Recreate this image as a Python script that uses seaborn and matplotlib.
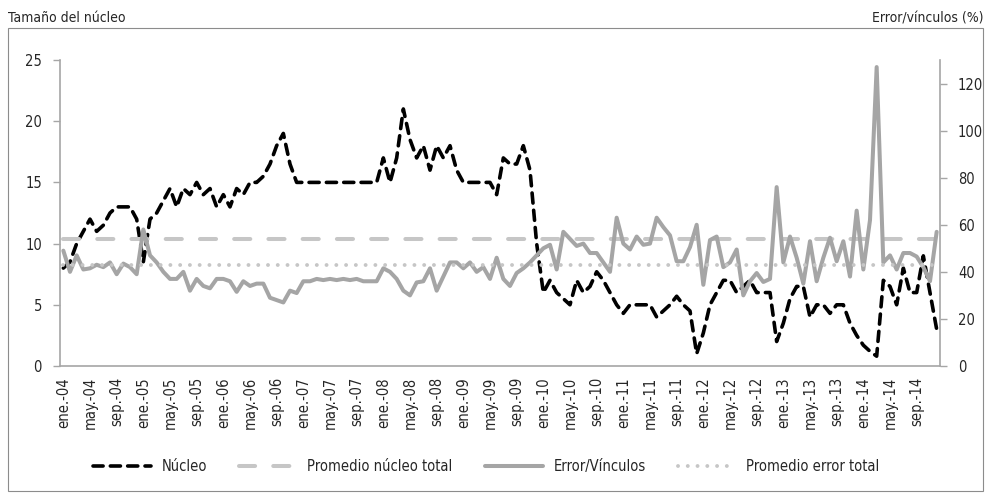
import numpy as np
import pandas as pd
import matplotlib
matplotlib.use('Agg')
import matplotlib.pyplot as plt
import matplotlib.patches as patches
import seaborn as sns

sns.set_style('white')
plt.rcParams['font.family'] = ['DejaVu Sans']
plt.rcParams['font.stretch'] = 'condensed'

# meses ene.-04 .. dic.-14
meses = ['ene.', 'feb.', 'mar.', 'abr.', 'may.', 'jun.',
         'jul.', 'ago.', 'sep.', 'oct.', 'nov.', 'dic.']
anios = list(range(4, 15))
etiquetas = ['{}-{:02d}'.format(m, a) for a in anios for m in meses]

# tamaño del núcleo (eje izquierdo)
nucleo = [8, 8.5, 10, 11, 12, 11, 11.5, 12.5, 13, 13, 13, 12,
          8.5, 12, 12.5, 13.5, 14.5, 13, 14.5, 14, 15, 14, 14.5, 13,
          14, 13, 14.5, 14, 15, 15, 15.5, 16.5, 18, 19, 16.5, 15,
          15, 15, 15, 15, 15, 15, 15, 15, 15, 15, 15, 15,
          17, 15, 17, 21, 18.5, 17, 18, 16, 18, 17, 18, 16,
          15, 15, 15, 15, 15, 14, 17, 16.5, 16.5, 18, 16, 10,
          6, 7, 6, 5.5, 5, 7, 6, 6.5, 7.7, 7, 6, 5,
          4.3, 5, 5, 5, 5, 4, 4.5, 5, 5.7, 5, 4.5, 1,
          2.7, 5, 6, 7, 7, 6, 6.5, 7, 6, 6, 6, 2,
          3.5, 5.5, 6.5, 6.5, 4, 5, 5, 4.3, 5, 5, 3.5, 2.5,
          1.7, 1.2, 0.8, 7, 6.5, 5, 8, 6, 6, 9, 6, 3]

# error / vínculos en % (eje derecho)
error = [49, 40, 47, 41, 41.5, 43, 42, 44, 39, 43.5, 42, 39,
         58, 47, 44, 40, 37, 37, 40, 32, 37, 34, 33, 37,
         37, 36, 31.5, 36, 34, 35, 35, 29, 28, 27, 32, 31,
         36, 36, 37, 36.5, 37, 36.5, 37, 36.5, 37, 36, 36, 36,
         41.5, 40, 37, 32, 30, 35.5, 36, 41.5, 32, 38, 44, 44,
         41.5, 44, 40, 42, 37, 46, 37, 34, 39.5, 41.5, 44, 47,
         50, 51.5, 41, 57, 54, 51, 52, 48, 48, 44, 40, 63,
         52, 49.5, 55, 51.5, 52, 63, 59, 55.5, 44.5, 44.5, 50.5, 60,
         34.5, 53.5, 55, 42, 44, 49.5, 30, 36, 39.5, 35.7, 37, 76,
         44, 55, 46, 35, 53, 36, 46, 54.5, 44.5, 53, 38, 66,
         41, 62, 127, 44, 47, 41, 48, 48, 46.5, 42, 36, 57]

prom_nucleo = 10.4
prom_error = 43.0

n = len(etiquetas)
df = pd.DataFrame({'pos': np.arange(n), 'mes': etiquetas,
                   'Núcleo': nucleo, 'Error/Vínculos': error})
df['Promedio núcleo total'] = prom_nucleo
df['Promedio error total'] = prom_error

fig = plt.figure(figsize=(9.9, 4.93), dpi=100)
ax = fig.add_axes([60/990, 1-366/493, 880/990, 306/493])
ax2 = ax.twinx()

sns.lineplot(data=df, x='pos', y='Núcleo', ax=ax, color='black', lw=2.6,
             label='Núcleo')
ax.lines[-1].set_dashes((2.8, 2.0))
ax.lines[-1].set_dash_capstyle('round')
sns.lineplot(data=df, x='pos', y='Promedio núcleo total', ax=ax, color='#c6c6c6',
             lw=2.9, label='Promedio núcleo total')
ax.lines[-1].set_dashes((4, 4.5))
ax.lines[-1].set_dash_capstyle('round')

sns.lineplot(data=df, x='pos', y='Error/Vínculos', ax=ax2, color='#a5a5a5', lw=2.9,
             label='Error/Vínculos')
sns.lineplot(data=df, x='pos', y='Promedio error total', ax=ax2, color='#c6c6c6',
             lw=2.8, label='Promedio error total')
ax2.lines[-1].set_dashes((0.01, 2.5))
ax2.lines[-1].set_dash_capstyle('round')

ax.set_xlim(-0.5, n - 0.5)
ax.set_ylim(0, 25)
ax2.set_ylim(0, 130)
ax.set_yticks([0, 5, 10, 15, 20, 25])
ax2.set_yticks([0, 20, 40, 60, 80, 100, 120])

# marcas entre categorías, etiquetas cada 4 meses
ax.set_xticks(np.arange(-0.5, n, 4))
ax.set_xticklabels([])
ax.set_xticks(np.arange(0, n, 4), minor=True)
ax.set_xticklabels(etiquetas[::4], minor=True, rotation=90)
ax.tick_params(axis='x', which='major', length=5, width=1, color='#a6a6a6', direction='out')
ax.tick_params(axis='x', which='minor', length=0, pad=8, labelsize=10.5)
ax.tick_params(axis='y', length=5, width=1, color='#a6a6a6', labelsize=10.5, pad=8)
ax2.tick_params(axis='y', length=5, width=1, color='#a6a6a6', labelsize=10.5, pad=8)

ax.set_xlabel('')
ax.set_ylabel('')
ax2.set_ylabel('')
for a in (ax, ax2):
    a.spines['top'].set_visible(False)
    for s in ('left', 'right', 'bottom'):
        a.spines[s].set_color('#a6a6a6')
        a.spines[s].set_linewidth(1.2)
ax.spines['right'].set_visible(False)
ax2.spines['left'].set_visible(False)
ax2.spines['bottom'].set_visible(False)

h1, l1 = ax.get_legend_handles_labels()
h2, l2 = ax2.get_legend_handles_labels()
ax.get_legend().remove()
ax2.get_legend().remove()
fig.legend(h1 + h2, l1 + l2, loc='center', bbox_to_anchor=(0.491, 0.053), ncol=4,
           frameon=False, fontsize=10.5, handlelength=4.0, columnspacing=2.2,
           handletextpad=0.7)

fig.text(8/990, 1-18/493, 'Tamaño del núcleo', fontsize=10, ha='left', va='center')
fig.text(983/990, 1-18/493, 'Error/vínculos (%)', fontsize=10, ha='right', va='center')

fig.patches.append(patches.Rectangle((8/990, 2/493), 975/990, 463/493,
                                     transform=fig.transFigure, fill=False,
                                     edgecolor='#8c8c8c', lw=0.8))

fig.savefig('out.png', dpi=100)
